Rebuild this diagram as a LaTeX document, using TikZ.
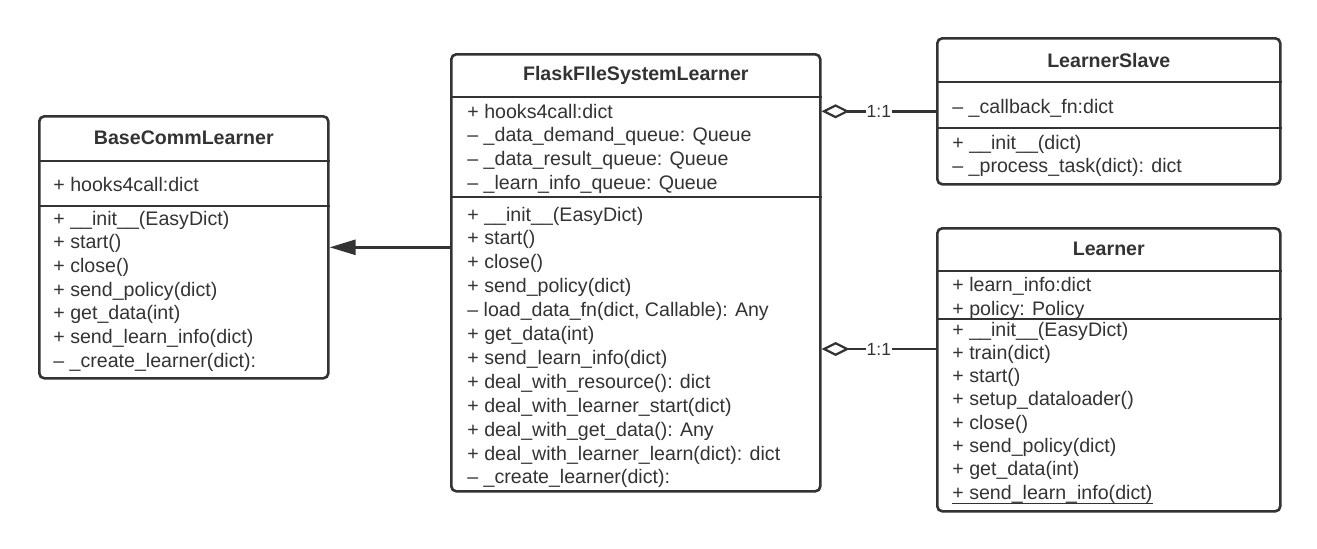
\documentclass[tikz,border=0pt]{standalone}
\usepackage{fontspec}
\setmainfont{Liberation Sans}
\usepackage{xcolor}
\usetikzlibrary{arrows.meta}
\definecolor{umlgray}{HTML}{333333}

\begin{document}
\begin{tikzpicture}[x=0.5pt, y=-0.5pt,
    cls/.style={draw=umlgray, line width=1.3pt, rounded corners=2.5pt, anchor=north west, inner sep=0pt},
    head/.style={text=umlgray, inner sep=0pt, font=\fontsize{9.8}{12}\selectfont\bfseries},
    row/.style={anchor=west, inner sep=0pt, text=umlgray, text height=7pt, text depth=2pt, font=\fontsize{9.8}{12}\selectfont},
    sep/.style={draw=umlgray, line width=1.3pt},
    inh/.style={draw=umlgray, line width=1.3pt, -{Triangle[length=13pt, width=7.5pt]}},
    agg/.style={draw=umlgray, line width=1.3pt, {Diamond[open, length=14pt, width=7pt, line width=1.1pt]}-},
    card/.style={fill=white, inner sep=0.3pt, text=umlgray, font=\fontsize{8.8}{10}\selectfont}]
    \useasboundingbox (0,0) rectangle (1317,548);

    % class boxes
    \node[cls, minimum width=144.5pt, minimum height=131pt] (base) at (38,115) {};
    \node[cls, minimum width=184.5pt, minimum height=218.5pt] (flask) at (450,53) {};
    \node[cls, minimum width=171.5pt, minimum height=73pt] (slave) at (936,37) {};
    \node[cls, minimum width=171.5pt, minimum height=141.5pt] (learner) at (936,227) {};

    \node[head] (base-t) at (base.north |- 0,138) {BaseCommLearner};
    \node[head] (flask-t) at (flask.north |- 0,75) {FlaskFIleSystemLearner};
    \node[head] (slave-t) at (slave.north |- 0,60) {LearnerSlave};
    \node[head] (learner-t) at (learner.north |- 0,249) {Learner};

    % compartments
    \draw[sep] (base.west |- 0,161) -- (base.east |- 0,161);
    \draw[sep] (base.west |- 0,206) -- (base.east |- 0,206);
    \draw[sep] (flask.west |- 0,97) -- (flask.east |- 0,97);
    \draw[sep] (flask.west |- 0,197) -- (flask.east |- 0,197);
    \draw[sep] (slave.west |- 0,82) -- (slave.east |- 0,82);
    \draw[sep] (slave.west |- 0,128) -- (slave.east |- 0,128);
    \draw[sep] (learner.west |- 0,271) -- (learner.east |- 0,271);
    \draw[sep] (learner.west |- 0,319) -- (learner.east |- 0,319);

    % BaseCommLearner
    \node[row] (base-a0) at (53,186) {+ hooks4call:dict};
    \foreach \t [count=\i from 0] in {{+ \_\_init\_\_(EasyDict)}, {+ start()}, {+ close()},
        {+ send\_policy(dict)}, {+ get\_data(int)}, {+ send\_learn\_info(dict)}, {-- \_create\_learner(dict):}}
        \node[row] (base-m\i) at (53,220+23.7*\i) {\t};

    % FlaskFIleSystemLearner
    \foreach \t [count=\i from 0] in {{+ hooks4call:dict}, {-- \_data\_demand\_queue: Queue},
        {-- \_data\_result\_queue: Queue}, {-- \_learn\_info\_queue: Queue}}
        \node[row] (flask-a\i) at (467,113+23.7*\i) {\t};
    \foreach \t [count=\i from 0] in {{+ \_\_init\_\_(EasyDict)}, {+ start()}, {+ close()},
        {+ send\_policy(dict)}, {-- load\_data\_fn(dict, Callable): Any}, {+ get\_data(int)},
        {+ send\_learn\_info(dict)}, {+ deal\_with\_resource(): dict}, {+ deal\_with\_learner\_start(dict)},
        {+ deal\_with\_get\_data(): Any}, {+ deal\_with\_learner\_learn(dict): dict}, {-- \_create\_learner(dict):}}
        \node[row] (flask-m\i) at (467,216+23.9*\i) {\t};

    % LearnerSlave
    \node[row] (slave-a0) at (952,108) {-- \_callback\_fn:dict};
    \node[row] (slave-m0) at (952,144) {+ \_\_init\_\_(dict)};
    \node[row] (slave-m1) at (952,167) {-- \_process\_task(dict): dict};

    % Learner
    \node[row] (learner-a0) at (952,286) {+ learn\_info:dict};
    \node[row] (learner-a1) at (952,310) {+ policy: Policy};
    \foreach \t [count=\i from 0] in {{+ \_\_init\_\_(EasyDict)}, {+ train(dict)}, {+ start()},
        {+ setup\_dataloader()}, {+ close()}, {+ send\_policy(dict)}, {+ get\_data(int)}, {+ send\_learn\_info(dict)}}
        \node[row] (learner-m\i) at (952,331+23.3*\i) {\t};
    \draw[umlgray, line width=0.6pt] (learner-m7.south west) -- (learner-m7.south east);

    % relations
    \draw[inh] (flask.west |- base.east) -- (base.east);
    \draw[agg] (flask.east |- slave.west) -- node[card] {1:1} (slave.west);
    \draw[agg] (flask.east |- 0,349) -- node[card] {1:1} (learner.west |- 0,349);
\end{tikzpicture}
\end{document}
